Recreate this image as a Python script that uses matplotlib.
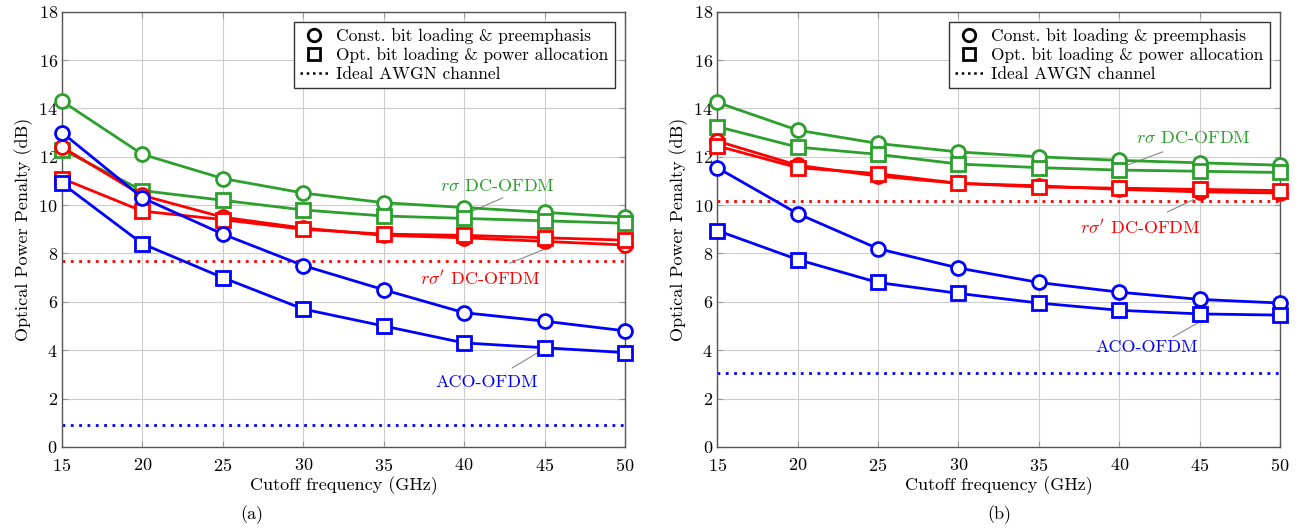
import matplotlib
matplotlib.use("Agg")
import matplotlib.pyplot as plt
from matplotlib.lines import Line2D

plt.rcParams["font.family"] = "serif"
plt.rcParams["font.serif"] = ["cmr10", "DejaVu Serif"]
plt.rcParams["mathtext.fontset"] = "cm"
plt.rcParams["axes.formatter.use_mathtext"] = True

freq = [15, 20, 25, 30, 35, 40, 45, 50]

# panel (a)
a_green_circ = [14.3, 12.1, 11.1, 10.5, 10.1, 9.9, 9.7, 9.5]
a_green_sq = [12.3, 10.6, 10.2, 9.8, 9.55, 9.45, 9.35, 9.25]
a_red_circ = [12.4, 10.4, 9.5, 9.05, 8.75, 8.65, 8.5, 8.35]
a_red_sq = [11.1, 9.75, 9.4, 9.0, 8.8, 8.75, 8.65, 8.55]
a_blue_circ = [13.0, 10.3, 8.8, 7.5, 6.5, 5.55, 5.2, 4.8]
a_blue_sq = [10.9, 8.4, 7.0, 5.7, 5.0, 4.3, 4.1, 3.9]
a_red_awgn = 7.7
a_blue_awgn = 0.9

# panel (b)
b_green_circ = [14.25, 13.1, 12.55, 12.2, 12.0, 11.85, 11.75, 11.65]
b_green_sq = [13.25, 12.4, 12.1, 11.7, 11.55, 11.45, 11.4, 11.35]
b_red_circ = [12.65, 11.65, 11.2, 10.9, 10.8, 10.65, 10.55, 10.5]
b_red_sq = [12.45, 11.55, 11.3, 10.9, 10.75, 10.7, 10.65, 10.6]
b_blue_circ = [11.55, 9.65, 8.2, 7.4, 6.8, 6.4, 6.1, 5.95]
b_blue_sq = [8.95, 7.75, 6.8, 6.35, 5.95, 5.65, 5.5, 5.45]
b_red_awgn = 10.15
b_blue_awgn = 3.05

GREEN = "#2ca02c"
RED = "#ff0000"
BLUE = "#0000ff"


def draw_panel(ax, series, awgn, labels):
    for vals, col, mk in series:
        ax.plot(freq, vals, color=col, marker=mk, lw=2, ms=10,
                mfc="white", mec=col, mew=2, zorder=3, clip_on=False)
    for val, col in awgn:
        ax.axhline(val, color=col, lw=2, ls=(0, (1, 2)), zorder=2)
    for text, col, txy, p1, p2 in labels:
        ax.text(txy[0], txy[1], text, color=col, fontsize=13,
                ha="center", va="center")
        ax.plot([p1[0], p2[0]], [p1[1], p2[1]], color="#888888", lw=0.8)

    ax.set_xlim(15, 50)
    ax.set_ylim(0, 18)
    ax.set_xticks(freq)
    ax.set_yticks(range(0, 19, 2))
    ax.grid(True, color="#cccccc", lw=0.8)
    ax.tick_params(direction="in", top=True, right=True, labelsize=13,
                   color="#999999", length=4, pad=3)
    ax.tick_params(axis="x", pad=7)
    for sp in ax.spines.values():
        sp.set_color("#555555")
        sp.set_linewidth(1)
    ax.set_xlabel("Cutoff frequency (GHz)", fontsize=13, labelpad=2)
    ax.set_ylabel("Optical Power Penalty (dB)", fontsize=13, labelpad=4)

    handles = [
        Line2D([], [], color="black", marker="o", ls="none", ms=9, mfc="white", mew=2),
        Line2D([], [], color="black", marker="s", ls="none", ms=9, mfc="white", mew=2),
        Line2D([], [], color="black", ls=(0, (1, 1.5)), lw=1.8),
    ]
    names = ["Const. bit loading & preemphasis",
             "Opt. bit loading & power allocation",
             "Ideal AWGN channel"]
    leg = ax.legend(handles, names, loc="upper right", fontsize=12.5,
                    fancybox=False, edgecolor="#333333", framealpha=1,
                    handlelength=1.6, handletextpad=0.5, borderpad=0.35,
                    labelspacing=0.2, borderaxespad=0.6)
    leg.get_frame().set_linewidth(1.0)


fig = plt.figure(figsize=(13.11, 5.32), dpi=100)
ax1 = fig.add_axes([0.0473, 0.16, 0.4294, 0.818])
ax2 = fig.add_axes([0.547, 0.16, 0.4294, 0.818])

draw_panel(
    ax1,
    [(a_green_circ, GREEN, "o"), (a_green_sq, GREEN, "s"),
     (a_red_circ, RED, "o"), (a_red_sq, RED, "s"),
     (a_blue_circ, BLUE, "o"), (a_blue_sq, BLUE, "s")],
    [(a_red_awgn, RED), (a_blue_awgn, BLUE)],
    [(r"$r\sigma$ DC-OFDM", GREEN, (42.1, 10.8), (42.4, 10.3), (40.4, 9.72)),
     (r"$r\sigma'$ DC-OFDM", RED, (41.0, 7.0), (42.85, 7.6), (44.9, 8.15)),
     ("ACO-OFDM", BLUE, (41.4, 2.65), (43.0, 3.27), (44.85, 4.0))],
)
draw_panel(
    ax2,
    [(b_green_circ, GREEN, "o"), (b_green_sq, GREEN, "s"),
     (b_red_circ, RED, "o"), (b_red_sq, RED, "s"),
     (b_blue_circ, BLUE, "o"), (b_blue_sq, BLUE, "s")],
    [(b_red_awgn, RED), (b_blue_awgn, BLUE)],
    [(r"$r\sigma$ DC-OFDM", GREEN, (44.6, 12.78), (42.7, 12.2), (40.55, 11.67)),
     (r"$r\sigma'$ DC-OFDM", RED, (41.3, 9.1), (43.0, 9.72), (44.6, 10.22)),
     ("ACO-OFDM", BLUE, (41.7, 4.1), (43.35, 4.55), (44.9, 5.13))],
)

fig.text(0.192, 0.032, "(a)", fontsize=13, ha="center", va="center")
fig.text(0.762, 0.032, "(b)", fontsize=13, ha="center", va="center")

fig.savefig("out.png", dpi=100)
